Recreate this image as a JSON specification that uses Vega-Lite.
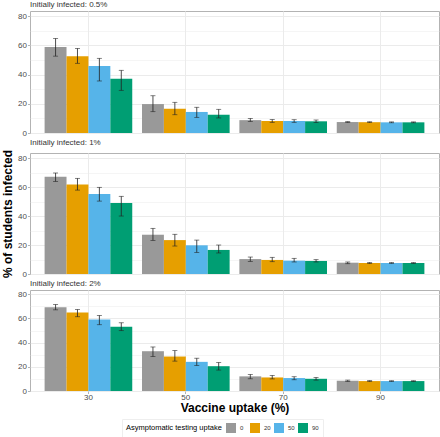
{
  "$schema": "https://vega.github.io/schema/vega-lite/v6.json",
  "padding": {"left": 1, "top": 0, "right": 4, "bottom": 0},
  "config": {
    "font": "Liberation Sans",
    "view": {"stroke": "#b3b3b3", "strokeWidth": 1},
    "title": {"fontSize": 8, "fontWeight": "normal", "anchor": "start", "frame": "group", "color": "#333333", "offset": 2},
    "axis": {"domain": false, "gridColor": "#ebebeb", "tickColor": "#b3b3b3", "labelColor": "#4d4d4d", "labelFontSize": 8, "tickSize": 2.5, "labelPadding": 1, "titleFontSize": 12, "titleFontWeight": "bold", "titleColor": "#000000"},
    "concat": {"spacing": 0},
    "legend": {"symbolType": "square", "symbolSize": 100, "symbolStrokeWidth": 0, "labelFontSize": 6, "titleFontSize": 7.5, "titleFontWeight": "normal", "titleColor": "#000000", "labelColor": "#333333"}
  },
  "datasets": {
    "d": [
      {"init": "0.5%", "vaccine": "30", "testing": "0", "mean": 58.8, "lo": 52.6, "hi": 64.7},
      {"init": "0.5%", "vaccine": "30", "testing": "20", "mean": 52.6, "lo": 47.7, "hi": 57.9},
      {"init": "0.5%", "vaccine": "30", "testing": "50", "mean": 45.8, "lo": 35.6, "hi": 51.1},
      {"init": "0.5%", "vaccine": "30", "testing": "90", "mean": 37.1, "lo": 29.2, "hi": 42.9},
      {"init": "0.5%", "vaccine": "50", "testing": "0", "mean": 19.8, "lo": 14.6, "hi": 25.5},
      {"init": "0.5%", "vaccine": "50", "testing": "20", "mean": 16.6, "lo": 12.5, "hi": 21.0},
      {"init": "0.5%", "vaccine": "50", "testing": "50", "mean": 14.4, "lo": 10.7, "hi": 17.6},
      {"init": "0.5%", "vaccine": "50", "testing": "90", "mean": 12.5, "lo": 10.3, "hi": 16.2},
      {"init": "0.5%", "vaccine": "70", "testing": "0", "mean": 8.8, "lo": 7.9, "hi": 10.0},
      {"init": "0.5%", "vaccine": "70", "testing": "20", "mean": 8.2, "lo": 7.3, "hi": 9.2},
      {"init": "0.5%", "vaccine": "70", "testing": "50", "mean": 8.2, "lo": 7.3, "hi": 9.1},
      {"init": "0.5%", "vaccine": "70", "testing": "90", "mean": 8.0, "lo": 7.2, "hi": 8.9},
      {"init": "0.5%", "vaccine": "90", "testing": "0", "mean": 7.5, "lo": 7.2, "hi": 7.8},
      {"init": "0.5%", "vaccine": "90", "testing": "20", "mean": 7.4, "lo": 7.1, "hi": 7.7},
      {"init": "0.5%", "vaccine": "90", "testing": "50", "mean": 7.3, "lo": 7.0, "hi": 7.6},
      {"init": "0.5%", "vaccine": "90", "testing": "90", "mean": 7.3, "lo": 7.0, "hi": 7.6},
      {"init": "1%", "vaccine": "30", "testing": "0", "mean": 67.1, "lo": 63.9, "hi": 69.7},
      {"init": "1%", "vaccine": "30", "testing": "20", "mean": 61.8, "lo": 57.9, "hi": 66.0},
      {"init": "1%", "vaccine": "30", "testing": "50", "mean": 55.2, "lo": 50.3, "hi": 59.8},
      {"init": "1%", "vaccine": "30", "testing": "90", "mean": 49.0, "lo": 40.0, "hi": 53.6},
      {"init": "1%", "vaccine": "50", "testing": "0", "mean": 27.1, "lo": 23.2, "hi": 31.5},
      {"init": "1%", "vaccine": "50", "testing": "20", "mean": 23.4, "lo": 19.3, "hi": 27.4},
      {"init": "1%", "vaccine": "50", "testing": "50", "mean": 19.8, "lo": 14.9, "hi": 23.4},
      {"init": "1%", "vaccine": "50", "testing": "90", "mean": 16.6, "lo": 14.5, "hi": 20.0},
      {"init": "1%", "vaccine": "70", "testing": "0", "mean": 10.3, "lo": 8.7, "hi": 11.7},
      {"init": "1%", "vaccine": "70", "testing": "20", "mean": 9.7, "lo": 8.5, "hi": 11.5},
      {"init": "1%", "vaccine": "70", "testing": "50", "mean": 9.2, "lo": 8.3, "hi": 10.8},
      {"init": "1%", "vaccine": "70", "testing": "90", "mean": 9.0, "lo": 8.3, "hi": 9.9},
      {"init": "1%", "vaccine": "90", "testing": "0", "mean": 7.8, "lo": 7.1, "hi": 8.3},
      {"init": "1%", "vaccine": "90", "testing": "20", "mean": 7.6, "lo": 7.2, "hi": 8.0},
      {"init": "1%", "vaccine": "90", "testing": "50", "mean": 7.6, "lo": 7.3, "hi": 7.9},
      {"init": "1%", "vaccine": "90", "testing": "90", "mean": 7.6, "lo": 7.3, "hi": 7.9},
      {"init": "2%", "vaccine": "30", "testing": "0", "mean": 69.3, "lo": 67.1, "hi": 71.5},
      {"init": "2%", "vaccine": "30", "testing": "20", "mean": 64.9, "lo": 61.4, "hi": 67.4},
      {"init": "2%", "vaccine": "30", "testing": "50", "mean": 59.2, "lo": 54.8, "hi": 62.5},
      {"init": "2%", "vaccine": "30", "testing": "90", "mean": 53.2, "lo": 49.9, "hi": 56.4},
      {"init": "2%", "vaccine": "50", "testing": "0", "mean": 32.9, "lo": 28.5, "hi": 36.4},
      {"init": "2%", "vaccine": "50", "testing": "20", "mean": 28.5, "lo": 24.7, "hi": 33.4},
      {"init": "2%", "vaccine": "50", "testing": "50", "mean": 24.1, "lo": 21.1, "hi": 27.1},
      {"init": "2%", "vaccine": "50", "testing": "90", "mean": 20.5, "lo": 17.3, "hi": 23.6},
      {"init": "2%", "vaccine": "70", "testing": "0", "mean": 12.1, "lo": 10.1, "hi": 13.7},
      {"init": "2%", "vaccine": "70", "testing": "20", "mean": 11.2, "lo": 10.0, "hi": 12.9},
      {"init": "2%", "vaccine": "70", "testing": "50", "mean": 10.7, "lo": 9.3, "hi": 11.8},
      {"init": "2%", "vaccine": "70", "testing": "90", "mean": 10.1, "lo": 9.0, "hi": 11.2},
      {"init": "2%", "vaccine": "90", "testing": "0", "mean": 8.5, "lo": 7.9, "hi": 9.0},
      {"init": "2%", "vaccine": "90", "testing": "20", "mean": 8.2, "lo": 7.8, "hi": 8.6},
      {"init": "2%", "vaccine": "90", "testing": "50", "mean": 8.2, "lo": 7.9, "hi": 8.5},
      {"init": "2%", "vaccine": "90", "testing": "90", "mean": 8.2, "lo": 7.9, "hi": 8.5}
    ]
  },
  "vconcat": [
    {
      "title": "Initially infected: 0.5%",
      "width": 409, "height": 122,
      "data": {"name": "d"},
      "transform": [{"filter": "datum.init == '0.5%'"}],
      "encoding": {
        "x": {"field": "vaccine", "type": "ordinal", "scale": {"paddingInner": 0.1, "paddingOuter": 0.15}, "axis": {"labels": false, "ticks": false, "title": null, "grid": true, "bandPosition": 0.5}},
        "xOffset": {"field": "testing", "type": "ordinal", "sort": ["0", "20", "50", "90"]},
        "y": {"field": "mean", "type": "quantitative", "scale": {"domain": [0, 83.5], "nice": false}, "axis": {"title": null, "values": [0, 10, 20, 30, 40, 50, 60, 70, 80], "labelExpr": "datum.value % 20 == 0 ? datum.label : ''", "tickOpacity": {"condition": {"test": "datum.value % 20 != 0", "value": 0}, "value": 1}, "gridWidth": {"condition": {"test": "datum.value % 20 != 0", "value": 0.5}, "value": 1}}}
      },
      "layer": [
        {"mark": {"type": "bar"}, "encoding": {"color": {"field": "testing", "type": "nominal", "title": "Asymptomatic testing uptake", "scale": {"domain": ["0", "20", "50", "90"], "range": ["#999999", "#E69F00", "#56B4E9", "#009E73"]}, "legend": {"orient": "none", "direction": "horizontal", "titleOrient": "left", "legendX": 92, "legendY": 408, "strokeColor": "#eeeeee", "padding": 4, "gridAlign": "all", "columnPadding": 3, "labelOffset": 4, "titlePadding": 4}}}},
        {"mark": {"type": "rule", "color": "#222222", "strokeWidth": 0.8}, "encoding": {"y": {"field": "lo", "type": "quantitative"}, "y2": {"field": "hi"}}},
        {"mark": {"type": "tick", "color": "#222222", "size": 5, "thickness": 0.8}, "encoding": {"y": {"field": "lo", "type": "quantitative"}}},
        {"mark": {"type": "tick", "color": "#222222", "size": 5, "thickness": 0.8}, "encoding": {"y": {"field": "hi", "type": "quantitative"}}}
      ]
    },
    {
      "title": "Initially infected: 1%",
      "width": 409, "height": 121,
      "data": {"name": "d"},
      "transform": [{"filter": "datum.init == '1%'"}],
      "encoding": {
        "x": {"field": "vaccine", "type": "ordinal", "scale": {"paddingInner": 0.1, "paddingOuter": 0.15}, "axis": {"labels": false, "ticks": false, "title": null, "grid": true, "bandPosition": 0.5}},
        "xOffset": {"field": "testing", "type": "ordinal", "sort": ["0", "20", "50", "90"]},
        "y": {"field": "mean", "type": "quantitative", "scale": {"domain": [0, 83.5], "nice": false}, "axis": {"title": "% of students infected", "titlePadding": 3, "values": [0, 10, 20, 30, 40, 50, 60, 70, 80], "labelExpr": "datum.value % 20 == 0 ? datum.label : ''", "tickOpacity": {"condition": {"test": "datum.value % 20 != 0", "value": 0}, "value": 1}, "gridWidth": {"condition": {"test": "datum.value % 20 != 0", "value": 0.5}, "value": 1}}}
      },
      "layer": [
        {"mark": {"type": "bar"}, "encoding": {"color": {"field": "testing", "type": "nominal", "title": "Asymptomatic testing uptake", "scale": {"domain": ["0", "20", "50", "90"], "range": ["#999999", "#E69F00", "#56B4E9", "#009E73"]}}}},
        {"mark": {"type": "rule", "color": "#222222", "strokeWidth": 0.8}, "encoding": {"y": {"field": "lo", "type": "quantitative"}, "y2": {"field": "hi"}}},
        {"mark": {"type": "tick", "color": "#222222", "size": 5, "thickness": 0.8}, "encoding": {"y": {"field": "lo", "type": "quantitative"}}},
        {"mark": {"type": "tick", "color": "#222222", "size": 5, "thickness": 0.8}, "encoding": {"y": {"field": "hi", "type": "quantitative"}}}
      ]
    },
    {
      "title": "Initially infected: 2%",
      "width": 409, "height": 101,
      "data": {"name": "d"},
      "transform": [{"filter": "datum.init == '2%'"}],
      "encoding": {
        "x": {"field": "vaccine", "type": "ordinal", "scale": {"paddingInner": 0.1, "paddingOuter": 0.15}, "axis": {"title": "Vaccine uptake (%)", "labelAngle": 0, "grid": true, "bandPosition": 0.5, "labelPadding": 0, "titlePadding": 1}},
        "xOffset": {"field": "testing", "type": "ordinal", "sort": ["0", "20", "50", "90"]},
        "y": {"field": "mean", "type": "quantitative", "scale": {"domain": [0, 83.5], "nice": false}, "axis": {"title": null, "values": [0, 10, 20, 30, 40, 50, 60, 70, 80], "labelExpr": "datum.value % 20 == 0 ? datum.label : ''", "tickOpacity": {"condition": {"test": "datum.value % 20 != 0", "value": 0}, "value": 1}, "gridWidth": {"condition": {"test": "datum.value % 20 != 0", "value": 0.5}, "value": 1}}}
      },
      "layer": [
        {"mark": {"type": "bar"}, "encoding": {"color": {"field": "testing", "type": "nominal", "title": "Asymptomatic testing uptake", "scale": {"domain": ["0", "20", "50", "90"], "range": ["#999999", "#E69F00", "#56B4E9", "#009E73"]}}}},
        {"mark": {"type": "rule", "color": "#222222", "strokeWidth": 0.8}, "encoding": {"y": {"field": "lo", "type": "quantitative"}, "y2": {"field": "hi"}}},
        {"mark": {"type": "tick", "color": "#222222", "size": 5, "thickness": 0.8}, "encoding": {"y": {"field": "lo", "type": "quantitative"}}},
        {"mark": {"type": "tick", "color": "#222222", "size": 5, "thickness": 0.8}, "encoding": {"y": {"field": "hi", "type": "quantitative"}}}
      ]
    }
  ]
}
